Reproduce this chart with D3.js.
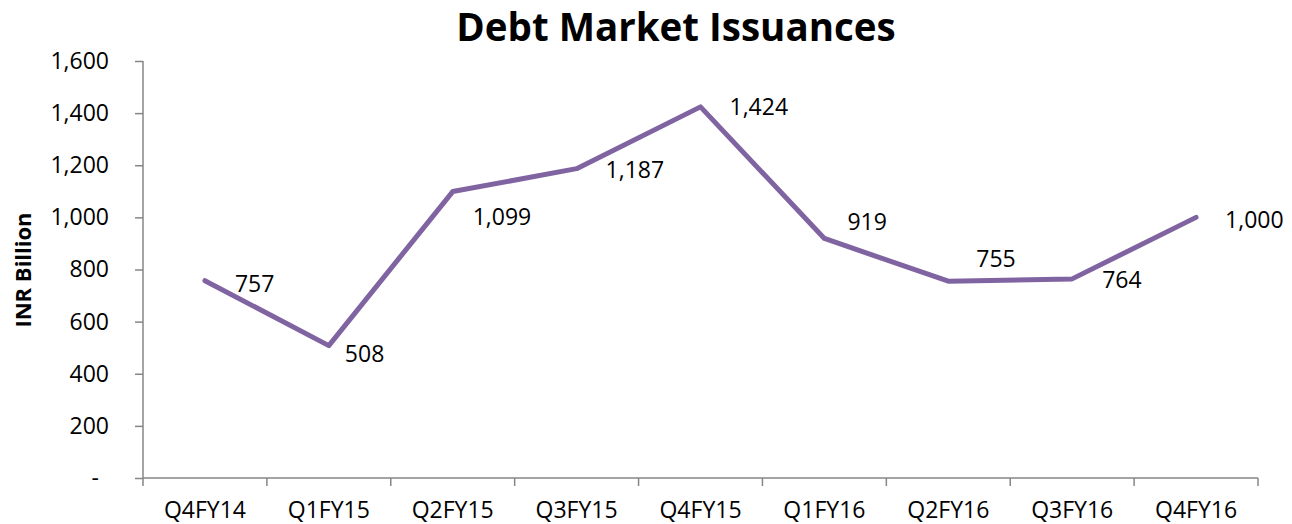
<!DOCTYPE html>
<html>
<head>
<meta charset="utf-8">
<script src="https://cdnjs.cloudflare.com/ajax/libs/d3/7.8.5/d3.min.js"></script>
<style>
  body { margin: 0; background: #fff; }
  text { font-family: "Open Sans", sans-serif; fill: #000; }
</style>
</head>
<body>
<div id="chart"></div>
<script>
// data
var quarters = ["Q4FY14", "Q1FY15", "Q2FY15", "Q3FY15", "Q4FY15", "Q1FY16", "Q2FY16", "Q3FY16", "Q4FY16"];
var issuances = [757, 508, 1099, 1187, 1424, 919, 755, 764, 1000];
var yTicks = [0, 200, 400, 600, 800, 1000, 1200, 1400, 1600];

// label nudges (layout only), [dx, dy] from each point
var labelNudge = [[30, 3], [16, 8], [20, 25], [29, 1], [29, 0], [23, -17], [28, -22], [30, 1], [29, 3]];

var W = 1292, H = 524;
var margin = {top: 61, right: 34, bottom: 46, left: 143};
var width = W - margin.left - margin.right;
var height = H - margin.top - margin.bottom;

var svg = d3.select("#chart").append("svg")
  .attr("width", W)
  .attr("height", H);

var g = svg.append("g")
  .attr("transform", "translate(" + margin.left + "," + margin.top + ")");

var x = d3.scaleBand().domain(quarters).range([0, width]);
var y = d3.scaleLinear().domain([0, 1600]).range([height, 0]);

var fmt = d3.format(",");

// title
svg.append("text")
  .attr("x", 676)
  .attr("y", 41)
  .attr("text-anchor", "middle")
  .style("font-size", "38.5px")
  .style("font-weight", "bold")
  .text("Debt Market Issuances");

// y axis
var yAxis = g.append("g")
  .call(d3.axisLeft(y).tickValues(yTicks).tickSize(8).tickPadding(26)
    .tickFormat(function(d) { return d === 0 ? "-" : fmt(d); }));
yAxis.selectAll("text")
  .style("font-size", "23px")
  .attr("dx", function(d) { return d === 0 ? -10 : 0; });

// x axis, ticks at category boundaries
var xAxis = g.append("g")
  .attr("transform", "translate(0," + height + ")")
  .call(d3.axisBottom(x).tickSize(0).tickPadding(24));
xAxis.selectAll("text").style("font-size", "23px");
xAxis.selectAll(".bnd")
  .data(d3.range(quarters.length + 1))
  .enter().append("line")
  .attr("class", "bnd")
  .attr("x1", function(i) { return i * x.bandwidth(); })
  .attr("x2", function(i) { return i * x.bandwidth(); })
  .attr("y1", 0)
  .attr("y2", 8);

svg.selectAll(".domain, .tick line, .bnd")
  .attr("stroke", "#868686")
  .attr("stroke-width", 1.5);
svg.selectAll(".domain").attr("d", function() {
  return this.parentNode === yAxis.node()
    ? "M0,0V" + height
    : "M0,0H" + width;
});

// y axis title
svg.append("text")
  .attr("transform", "translate(31,270) rotate(-90)")
  .attr("text-anchor", "middle")
  .style("font-size", "22px")
  .style("font-weight", "bold")
  .text("INR Billion");

// line
var line = d3.line()
  .x(function(d, i) { return x(quarters[i]) + x.bandwidth() / 2; })
  .y(function(d) { return y(d); });

g.append("path")
  .datum(issuances)
  .attr("fill", "none")
  .attr("stroke", "#8064A2")
  .attr("stroke-width", 5)
  .attr("stroke-linejoin", "round")
  .attr("stroke-linecap", "round")
  .attr("d", line);

// data labels
g.selectAll(".lbl")
  .data(issuances)
  .enter().append("text")
  .attr("class", "lbl")
  .attr("x", function(d, i) { return x(quarters[i]) + x.bandwidth() / 2 + labelNudge[i][0]; })
  .attr("y", function(d, i) { return y(d) + labelNudge[i][1]; })
  .attr("dy", "0.35em")
  .style("font-size", "23px")
  .text(function(d) { return fmt(d); });
</script>
</body>
</html>
